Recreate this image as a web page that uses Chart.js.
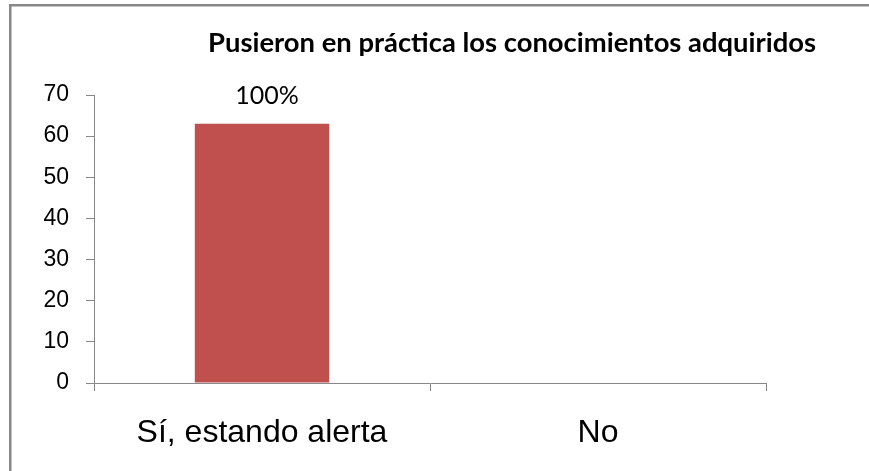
<!DOCTYPE html>
<html>
<head>
<meta charset="utf-8">
<script src="https://cdn.jsdelivr.net/npm/chart.js@4.4.1/dist/chart.umd.min.js"></script>
<style>
  html, body { margin: 0; padding: 0; background: #fff; overflow: hidden; }
  canvas { display: block; }
</style>
</head>
<body>
<canvas id="c" width="869" height="471"></canvas>
<script>
const chartTitle = "Pusieron en práctica los conocimientos adquiridos";
const categories = ["Sí, estando alerta", "No"];
const values = [63, 0];
const valueLabels = ["100%", ""];
const yTicks = [0, 10, 20, 30, 40, 50, 60, 70];

const framePlugin = {
  id: 'frame',
  beforeDraw(chart) {
    const ctx = chart.ctx;
    ctx.save();
    ctx.fillStyle = '#fff';
    ctx.fillRect(0, 0, chart.width, chart.height);
    ctx.fillStyle = '#888';
    ctx.fillRect(9, 4, 2.5, chart.height - 4);
    ctx.fillRect(9, 4, chart.width - 9, 2.5);
    ctx.restore();
  }
};

const titlePlugin = {
  id: 'sideTitle',
  afterDraw(chart) {
    const ctx = chart.ctx;
    ctx.save();
    ctx.font = 'bold 27.4px Lato';
    ctx.fillStyle = '#000';
    ctx.textAlign = 'center';
    ctx.textBaseline = 'middle';
    ctx.fillText(chartTitle, 512, 43);
    ctx.restore();
  }
};

const labelPlugin = {
  id: 'valueLabels',
  afterDatasetsDraw(chart) {
    const ctx = chart.ctx;
    const meta = chart.getDatasetMeta(0);
    ctx.save();
    ctx.font = '25px Lato';
    ctx.fillStyle = '#000';
    ctx.textAlign = 'center';
    ctx.textBaseline = 'middle';
    meta.data.forEach((bar, i) => {
      if (valueLabels[i]) ctx.fillText(valueLabels[i], bar.x + 5, bar.y - 28);
    });
    ctx.restore();
  }
};

new Chart(document.getElementById('c'), {
  type: 'bar',
  data: {
    labels: categories,
    datasets: [{
      data: values,
      backgroundColor: '#C0504D',
      borderWidth: 0,
      barPercentage: 0.4,
      categoryPercentage: 1.0
    }]
  },
  options: {
    responsive: false,
    animation: false,
    events: [],
    layout: { padding: { top: 95, right: 103, left: 0, bottom: 0 } },
    plugins: { legend: { display: false }, tooltip: { enabled: false }, title: { display: false } },
    scales: {
      x: {
        afterFit(scale) { scale.height = 88; },
        grid: { display: true, offset: true, drawOnChartArea: false, drawTicks: true, tickLength: 8, color: '#888', lineWidth: 1 },
        border: { display: true, color: '#888', width: 1 },
        ticks: { color: '#000', font: { family: 'Liberation Sans', size: 32 }, padding: 23, maxRotation: 0 }
      },
      y: {
        min: 0, max: 70,
        afterFit(scale) { scale.width = 94; },
        afterBuildTicks(scale) { scale.ticks = yTicks.map(v => ({ value: v })); },
        grid: { display: true, drawOnChartArea: false, drawTicks: true, tickLength: 8, color: '#888', lineWidth: 1 },
        border: { display: true, color: '#888', width: 1 },
        ticks: { color: '#000', font: { family: 'Liberation Sans', size: 23 }, padding: 17 }
      }
    }
  },
  plugins: [framePlugin, titlePlugin, labelPlugin]
});
</script>
</body>
</html>
